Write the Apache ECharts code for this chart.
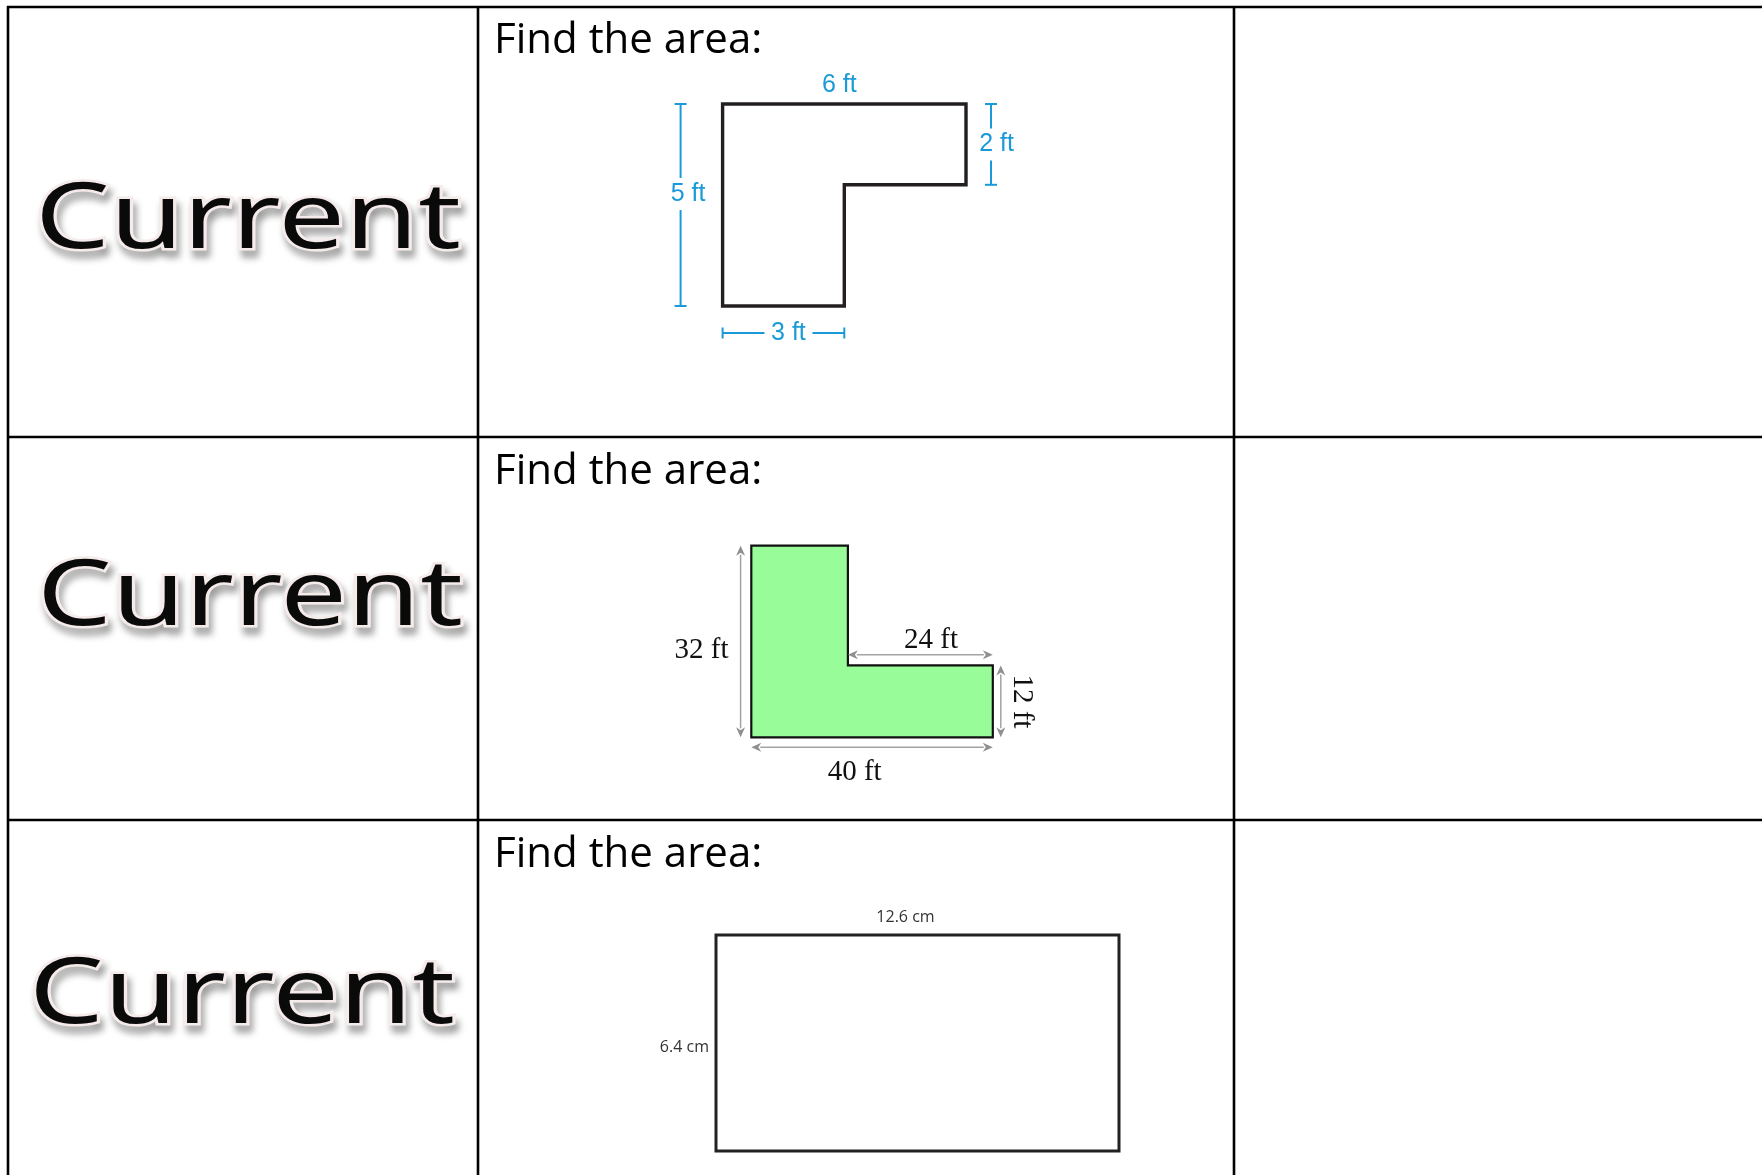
<!DOCTYPE html>
<html>
<head>
<meta charset="utf-8">
<script src="https://cdn.jsdelivr.net/npm/echarts@6/dist/echarts.min.js"></script>
<style>
  html, body { margin: 0; padding: 0; background: #fff; }
  #main { width: 1762px; height: 1175px; }
</style>
</head>
<body>
<div id="main"></div>
<script>
// figure 1 - L shape, feet
const fig1X = [0, 3, 3, 6, 6, 0];
const fig1Y = [0, 0, 3, 3, 5, 5];
const fig1Labels = ['6 ft', '5 ft', '2 ft', '3 ft'];
const fig1Dims = [[0, 5, 6, 5], [0, 0, 0, 5], [6, 3, 6, 5], [0, 0, 3, 0]];

// figure 2 - green L shape, feet
const fig2X = [0, 40, 40, 16, 16, 0];
const fig2Y = [0, 0, 12, 12, 32, 32];
const fig2Labels = ['32 ft', '24 ft', '12 ft', '40 ft'];
const fig2Dims = [[0, 0, 0, 32], [16, 12, 40, 12], [40, 0, 40, 12], [0, 0, 40, 0]];

// figure 3 - rectangle, cm
const fig3X = [0, 12.6, 12.6, 0];
const fig3Y = [0, 0, 6.4, 6.4];
const fig3Labels = ['12.6 cm', '6.4 cm'];
const fig3Dims = [[0, 6.4, 12.6, 6.4], [0, 0, 0, 6.4]];

const rowWords = ['Current', 'Current', 'Current'];
const promptText = 'Find the area:';

let myChart = echarts.init(document.getElementById('main'));

// label placement (pixels), kept apart from the values
const fig1Place = [
  {line: false, lx: -5, ly: -19},
  {dx: -42, lx: 7.5, ly: -11, gap: 16},
  {dx: 25, lx: 5.5, gap: 16},
  {dy: 27, lx: 5, gap: 24}
];
const fig2Place = [
  {dx: -10.7, lx: -39, ly: 8.5},
  {dy: -10.7, lx: 10.6, ly: -14},
  {dx: 8, lx: 21, rot: -Math.PI / 2},
  {dy: 10, lx: -17.4, ly: 25.5}
];
const fig3Place = [
  {line: false, lx: -12, ly: -18},
  {line: false, lx: -7, ly: 4, align: 'right'}
];

function shapeSeries(idx, xs, ys, fill, stroke, lw) {
  const pts = xs.map((x, i) => [x, ys[i]]);
  return {
    type: 'custom',
    xAxisIndex: idx, yAxisIndex: idx,
    clip: false, silent: true, z: 2,
    data: pts,
    renderItem: function (params, api) {
      if (params.dataIndex !== 0) return null;
      return {
        type: 'polygon',
        shape: {points: pts.map(p => api.coord(p))},
        style: {fill: fill, stroke: stroke, lineWidth: lw, lineJoin: 'miter'}
      };
    }
  };
}

function dimSeries(idx, dims, labels, place, kind, color, font, textColor) {
  return {
    type: 'custom',
    xAxisIndex: idx, yAxisIndex: idx,
    clip: false, silent: true, z: 3,
    data: dims,
    renderItem: function (params, api) {
      const i = params.dataIndex;
      const st = place[i];
      const dx = st.dx || 0, dy = st.dy || 0;
      let a = api.coord([api.value(0), api.value(1)]);
      let b = api.coord([api.value(2), api.value(3)]);
      a = [a[0] + dx, a[1] + dy];
      b = [b[0] + dx, b[1] + dy];
      const mx = (a[0] + b[0]) / 2 + (st.lx || 0);
      const my = (a[1] + b[1]) / 2 + (st.ly || 0);
      const horiz = Math.abs(a[1] - b[1]) < 1;
      const kids = [];
      const ls = {stroke: color, lineWidth: kind === 'arrow' ? 1.5 : 2};
      if (st.line !== false) {
        // sort so a is the smaller end
        if (horiz && a[0] > b[0]) { const t = a; a = b; b = t; }
        if (!horiz && a[1] > b[1]) { const t = a; a = b; b = t; }
        const hl = kind === 'arrow' ? 9 : 0;
        let s = horiz ? [a[0] + hl, a[1]] : [a[0], a[1] + hl];
        let e = horiz ? [b[0] - hl, b[1]] : [b[0], b[1] - hl];
        if (st.gap) {
          const c = horiz ? mx : my;
          const g1 = horiz ? [c - st.gap, a[1]] : [a[0], c - st.gap];
          const g2 = horiz ? [c + st.gap, a[1]] : [a[0], c + st.gap];
          kids.push({type: 'line', shape: {x1: s[0], y1: s[1], x2: g1[0], y2: g1[1]}, style: ls});
          kids.push({type: 'line', shape: {x1: g2[0], y1: g2[1], x2: e[0], y2: e[1]}, style: ls});
        } else {
          kids.push({type: 'line', shape: {x1: s[0], y1: s[1], x2: e[0], y2: e[1]}, style: ls});
        }
        if (kind === 'bar') {
          [a, b].forEach(p => {
            kids.push({type: 'line', shape: horiz
              ? {x1: p[0], y1: p[1] - 5.5, x2: p[0], y2: p[1] + 5.5}
              : {x1: p[0] - 6, y1: p[1], x2: p[0] + 6, y2: p[1]}, style: ls});
          });
        } else {
          const w = 4.5;
          const heads = horiz
            ? [[a, [a[0] + 10, a[1] - w], [a[0] + 7, a[1]], [a[0] + 10, a[1] + w]],
               [b, [b[0] - 10, b[1] - w], [b[0] - 7, b[1]], [b[0] - 10, b[1] + w]]]
            : [[a, [a[0] - w, a[1] + 10], [a[0], a[1] + 7], [a[0] + w, a[1] + 10]],
               [b, [b[0] - w, b[1] - 10], [b[0], b[1] - 7], [b[0] + w, b[1] - 10]]];
          heads.forEach(h => kids.push({type: 'polygon', shape: {points: h}, style: {fill: '#8f8f8f'}}));
        }
      }
      kids.push({
        type: 'text', x: mx, y: my, rotation: st.rot || 0,
        style: {text: labels[i], fill: textColor, font: font,
                align: st.align || 'center', verticalAlign: 'middle'}
      });
      return {type: 'group', children: kids};
    }
  };
}

// table rules
const rules = [];
const hl = [7, 437, 820];
const vl = [8, 478, 1234];
hl.forEach(y => rules.push({type: 'line', shape: {x1: 7, y1: y, x2: 1762, y2: y}, style: {stroke: '#000', lineWidth: 2.6}}));
vl.forEach(x => rules.push({type: 'line', shape: {x1: x, y1: 6, x2: x, y2: 1175}, style: {stroke: '#000', lineWidth: 2.6}}));

const wordPos = [[248, 222], [250, 599], [242, 997]];
const words = [];
rowWords.forEach((w, i) => {
  const base = {type: 'text', x: wordPos[i][0], y: wordPos[i][1], scaleX: 1.3, scaleY: 1};
  words.push(Object.assign({}, base, {style: {text: w, font: '91px "Noto Sans"', align: 'center', verticalAlign: 'middle',
    fill: 'rgba(0,0,0,0)', stroke: '#f5ebeb', lineWidth: 5,
    textShadowColor: 'rgba(0,0,0,0.42)', textShadowBlur: 7, textShadowOffsetX: 3, textShadowOffsetY: 7}}));
  words.push(Object.assign({}, base, {style: {text: w, font: '91px "Noto Sans"', align: 'center', verticalAlign: 'middle', fill: '#0a0a0a'}}));
});
const promptY = [41, 472, 855];
promptY.forEach(y => words.push({type: 'text', x: 494, y: y,
  style: {text: promptText, font: '42px "Open Sans"', fill: '#000', align: 'left', verticalAlign: 'middle'}}));

const option = {
  backgroundColor: '#fff',
  animation: false,
  graphic: rules.concat(words),
  grid: [
    {left: 722.6, top: 104, width: 243.4, height: 202},
    {left: 751.3, top: 545.7, width: 241.5, height: 191.6},
    {left: 716, top: 935, width: 403, height: 216}
  ],
  xAxis: [
    {gridIndex: 0, type: 'value', min: 0, max: 6, show: false},
    {gridIndex: 1, type: 'value', min: 0, max: 40, show: false},
    {gridIndex: 2, type: 'value', min: 0, max: 12.6, show: false}
  ],
  yAxis: [
    {gridIndex: 0, type: 'value', min: 0, max: 5, show: false},
    {gridIndex: 1, type: 'value', min: 0, max: 32, show: false},
    {gridIndex: 2, type: 'value', min: 0, max: 6.4, show: false}
  ],
  series: [
    shapeSeries(0, fig1X, fig1Y, '#fff', '#231f20', 3.4),
    dimSeries(0, fig1Dims, fig1Labels, fig1Place, 'bar', '#1a9ad8', '25px "Liberation Sans"', '#1a9ad8'),
    shapeSeries(1, fig2X, fig2Y, '#98fc98', '#111', 2.2),
    dimSeries(1, fig2Dims, fig2Labels, fig2Place, 'arrow', '#a3a3a3', '29px "Liberation Serif"', '#111'),
    shapeSeries(2, fig3X, fig3Y, '#fff', '#222', 3),
    dimSeries(2, fig3Dims, fig3Labels, fig3Place, 'none', '#444', '16px "Open Sans"', '#333')
  ]
};
myChart.setOption(option);
</script>
</body>
</html>
